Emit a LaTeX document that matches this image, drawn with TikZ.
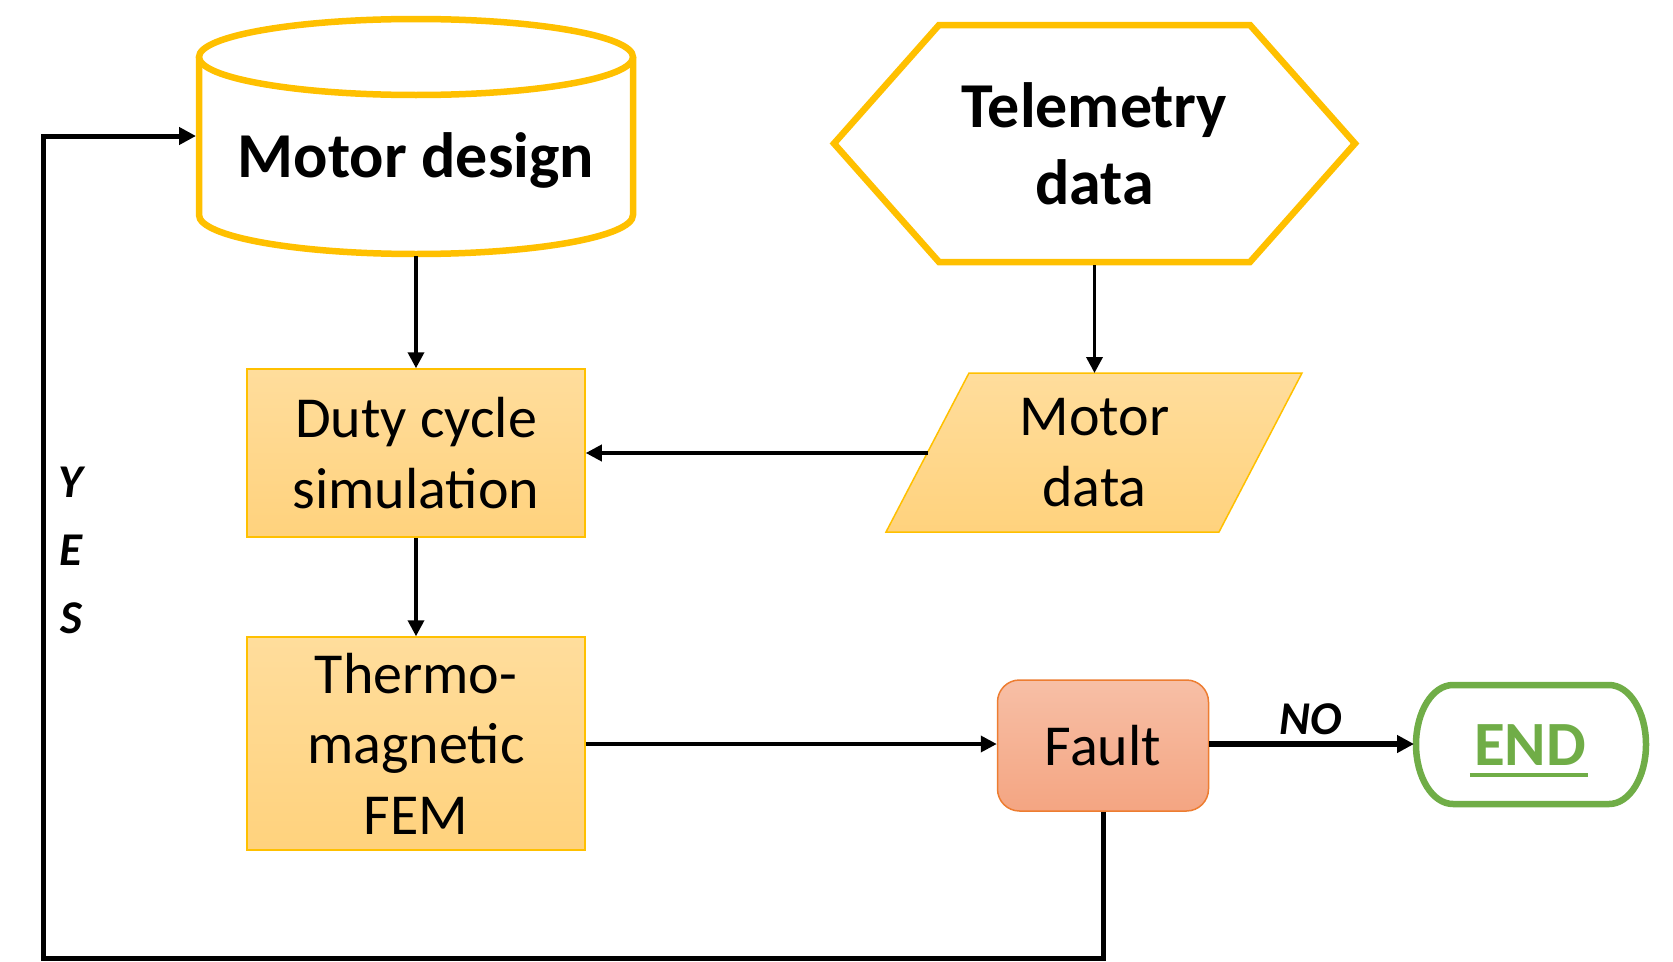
\documentclass[tikz,border=0pt]{standalone}
\usepackage{fontspec}
\setmainfont{Carlito}
\usetikzlibrary{arrows.meta}
\definecolor{gold}{RGB}{255,192,0}
\definecolor{boxtop}{RGB}{255,221,156}
\definecolor{boxbot}{RGB}{255,210,125}
\definecolor{faulttop}{RGB}{247,191,166}
\definecolor{faultbot}{RGB}{244,165,130}
\definecolor{faultline}{RGB}{237,125,49}
\definecolor{endgreen}{RGB}{112,173,71}
\begin{document}
\begin{tikzpicture}[x=1pt,y=-1pt,
  boldtxt/.style={font=\fontsize{64}{77}\selectfont\bfseries, align=center, inner sep=0pt},
  regtxt/.style={font=\fontsize{58}{70.5}\selectfont, align=center, inner sep=0pt},
  lbltxt/.style={font=\fontsize{47}{68}\selectfont\bfseries\itshape, align=center, inner sep=0pt},
  procbox/.style={regtxt, draw=gold, line width=1.5pt, top color=boxtop, bottom color=boxbot,
    minimum width=338pt},
  faultbox/.style={regtxt, draw=faultline, line width=1.5pt, top color=faulttop, bottom color=faultbot,
    minimum width=211pt, minimum height=131pt, rounded corners=22pt},
  goldshape/.style={draw=gold, line width=6.5pt, fill=white},
  thinarrow/.style={line width=3.6pt, -{Triangle[length=16pt, width=16pt]}},
  thickarrow/.style={line width=6pt, -{Triangle[length=17pt, width=17pt]}},
  looparrow/.style={line width=5pt, -{Triangle[length=17pt, width=17pt]}},
]
\useasboundingbox (0,0) rectangle (1673,961);

% Motor design cylinder
\draw[goldshape] (199,57) -- (199,215) arc[start angle=180, end angle=0, x radius=217, y radius=39] -- (633,57);
\draw[goldshape] (416,57) ellipse[x radius=217, y radius=38];
\node[boldtxt, anchor=base] (md) at (416,177) {Motor design};
\coordinate (mdbot) at (416,256);
\coordinate (mdleft) at (196,136);

% Telemetry data hexagon
\draw[goldshape] (834,143.5) -- (939,25) -- (1250,25) -- (1355,143.5) -- (1250,262) -- (939,262) -- cycle;
\node[boldtxt] (tel) at (1094.5,143.5) {Telemetry\\data};
\coordinate (telbot) at (1094.5,265);

% Motor data parallelogram
\path[draw=gold, line width=1.5pt, top color=boxtop, bottom color=boxbot]
  (969,373) -- (1302,373) -- (1219,532) -- (886,532) -- cycle;
\node[regtxt] (mot) at (1094.5,452.5) {Motor\\data};
\coordinate (mottop) at (1094.5,373);
\coordinate (motleft) at (928,453);

% Process boxes
\node[procbox, minimum height=168pt] (duty) at (416,453) {Duty cycle\\simulation};
\node[procbox, minimum height=213pt] (fem) at (416,743.5) {Thermo-\\magnetic\\FEM};
\node[faultbox] (fault) at (1103,745.5) {Fault};

% END terminator
\draw[endgreen, line width=6.5pt, fill=white]
  (1453,685) -- (1609,685) arc[start angle=-90, end angle=90, x radius=37, y radius=59.5]
  -- (1453,804) arc[start angle=90, end angle=270, x radius=37, y radius=59.5] -- cycle;
\node[font=\fontsize{63}{75}\selectfont\bfseries, text=endgreen, inner sep=0pt, anchor=base] (endtxt) at (1530,765) {END};
\draw[endgreen, line width=3.3pt] ([xshift=-4pt, yshift=-10pt]endtxt.base west) -- ([xshift=2pt, yshift=-10pt]endtxt.base east);
\coordinate (endw) at (1414,744);

% Connectors
\draw[thinarrow] (mdbot) -- (duty.north);
\draw[thinarrow] (telbot) -- (mottop);
\draw[thinarrow] (motleft) -- (duty.east |- motleft);
\draw[thinarrow] (duty.south) -- (fem.north);
\draw[thinarrow] (fem.east |- 0,744) -- (fault.west |- 0,744);
\draw[thickarrow] (fault.east |- endw) -- (endw);
\node[lbltxt, anchor=base] (no) at (1311,734) {NO};
\draw[looparrow] (fault.south) |- (43,958) |- (mdleft);
\node[lbltxt] (yes) at (71,550) {Y\\E\\S};
\end{tikzpicture}
\end{document}
